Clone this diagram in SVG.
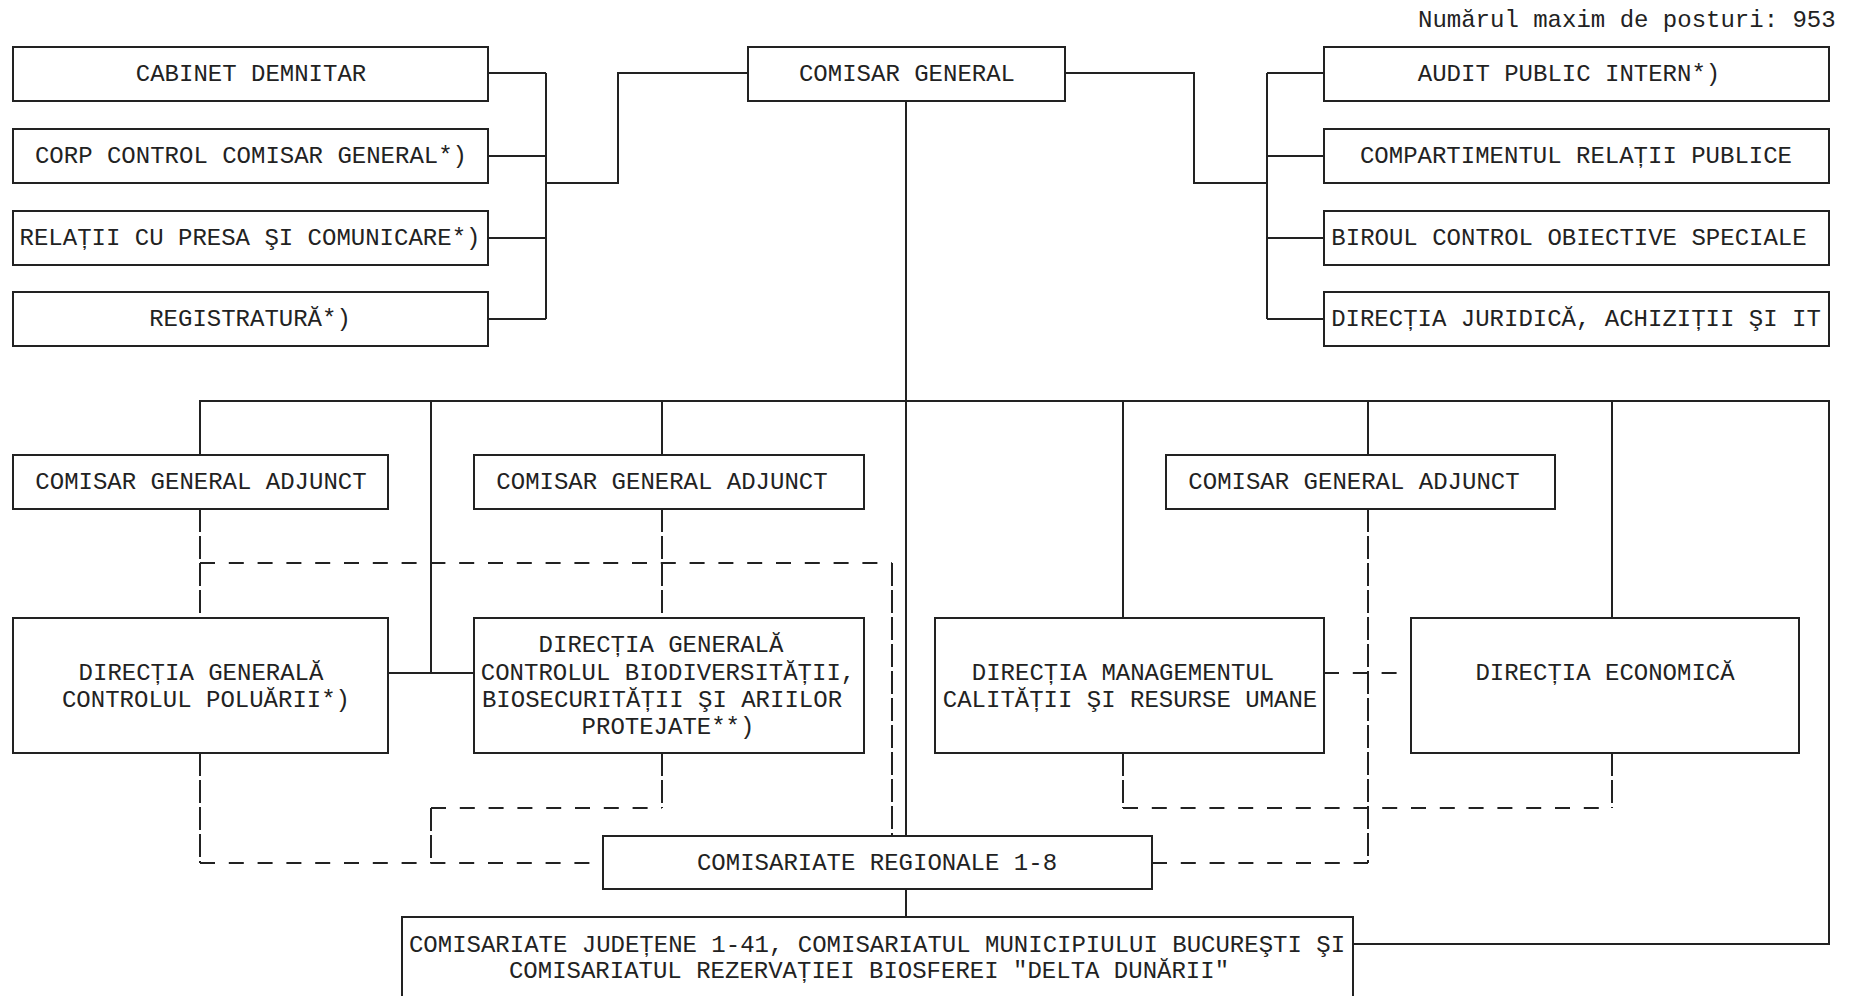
<svg xmlns="http://www.w3.org/2000/svg" width="1856" height="996" viewBox="0 0 1856 996">
<style>
.box{fill:#fff;stroke:#222;stroke-width:2}
.t{font-family:"Liberation Mono","Courier New",monospace;font-size:24px;fill:#222;text-anchor:middle}
.c{fill:none;stroke:#222;stroke-width:2}
.dh{fill:none;stroke:#222;stroke-width:2;stroke-dasharray:15 13.8}
.dv{fill:none;stroke:#222;stroke-width:2;stroke-dasharray:23 4}
</style>
<rect width="1856" height="996" fill="#fff"/>
<text class="t" x="1418" y="27" style="text-anchor:start">Numărul maxim de posturi: 953</text>
<g id="connectors">
<path class="c" d="M488,73H546M488,156H546M488,238H546M488,319H546M546,73V319M546,183H618V73H748"/>
<path class="c" d="M1065,73H1194V183H1267M1267,73V319M1267,73H1324M1267,156H1324M1267,238H1324M1267,319H1324"/>
<path class="c" d="M906,101V836M906,889V917"/>
<path class="c" d="M200,455V401H1829V944H1353M431,401V673M388,673H474M662,401V455M1123,401V618M1368,401V455M1612,401V618"/>
<path class="dv" d="M200,509V618M662,509V618M892,563V836M200,753V863M431,808V863M662,753V808M1368,509V863M1123,753V808M1612,753V808"/>
<path class="dh" d="M200,563H892M200,863H603M431,808H662M1152,863H1368M1123,808H1612M1324,673H1411"/>
</g>
<g id="cabinet"><rect class="box" x="13" y="47" width="475" height="54"/><text class="t" x="251" y="81">CABINET DEMNITAR</text></g>
<g id="corp-control"><rect class="box" x="13" y="129" width="475" height="54"/><text class="t" x="251" y="163">CORP CONTROL COMISAR GENERAL*)</text></g>
<g id="relatii-presa"><rect class="box" x="13" y="211" width="475" height="54"/><text class="t" x="250" y="245">RELAȚII CU PRESA ŞI COMUNICARE*)</text></g>
<g id="registratura"><rect class="box" x="13" y="292" width="475" height="54"/><text class="t" x="250" y="326">REGISTRATURĂ*)</text></g>
<g id="comisar-general"><rect class="box" x="748" y="47" width="317" height="54"/><text class="t" x="907" y="81">COMISAR GENERAL</text></g>
<g id="audit"><rect class="box" x="1324" y="47" width="505" height="54"/><text class="t" x="1569" y="81">AUDIT PUBLIC INTERN*)</text></g>
<g id="relatii-publice"><rect class="box" x="1324" y="129" width="505" height="54"/><text class="t" x="1576" y="163">COMPARTIMENTUL RELAȚII PUBLICE</text></g>
<g id="biroul-control"><rect class="box" x="1324" y="211" width="505" height="54"/><text class="t" x="1569" y="245">BIROUL CONTROL OBIECTIVE SPECIALE</text></g>
<g id="directia-juridica"><rect class="box" x="1324" y="292" width="505" height="54"/><text class="t" x="1576" y="326">DIRECȚIA JURIDICĂ, ACHIZIȚII ŞI IT</text></g>
<g id="cga1"><rect class="box" x="13" y="455" width="375" height="54"/><text class="t" x="201" y="489">COMISAR GENERAL ADJUNCT</text></g>
<g id="cga2"><rect class="box" x="474" y="455" width="390" height="54"/><text class="t" x="662" y="489">COMISAR GENERAL ADJUNCT</text></g>
<g id="cga3"><rect class="box" x="1166" y="455" width="389" height="54"/><text class="t" x="1354" y="489">COMISAR GENERAL ADJUNCT</text></g>
<g id="dg-poluare"><rect class="box" x="13" y="618" width="375" height="135"/><text class="t" x="201" y="680">DIRECȚIA GENERALĂ</text><text class="t" x="206" y="707">CONTROLUL POLUĂRII*)</text></g>
<g id="dg-biodiversitate"><rect class="box" x="474" y="618" width="390" height="135"/><text class="t" x="661" y="652">DIRECȚIA GENERALĂ</text><text class="t" x="668" y="680">CONTROLUL BIODIVERSITĂȚII,</text><text class="t" x="662" y="707">BIOSECURITĂȚII ŞI ARIILOR</text><text class="t" x="668" y="734">PROTEJATE**)</text></g>
<g id="dir-management"><rect class="box" x="935" y="618" width="389" height="135"/><text class="t" x="1123" y="680">DIRECȚIA MANAGEMENTUL</text><text class="t" x="1130" y="707">CALITĂȚII ŞI RESURSE UMANE</text></g>
<g id="dir-economica"><rect class="box" x="1411" y="618" width="388" height="135"/><text class="t" x="1605" y="680">DIRECȚIA ECONOMICĂ</text></g>
<g id="comisariate-regionale"><rect class="box" x="603" y="836" width="549" height="53"/><text class="t" x="877" y="870">COMISARIATE REGIONALE 1-8</text></g>
<g id="comisariate-judetene"><rect class="box" x="402" y="917" width="951" height="90"/><text class="t" x="877" y="952">COMISARIATE JUDEȚENE 1-41, COMISARIATUL MUNICIPIULUI BUCUREŞTI ŞI</text><text class="t" x="869" y="978">COMISARIATUL REZERVAȚIEI BIOSFEREI "DELTA DUNĂRII"</text></g>
</svg>
